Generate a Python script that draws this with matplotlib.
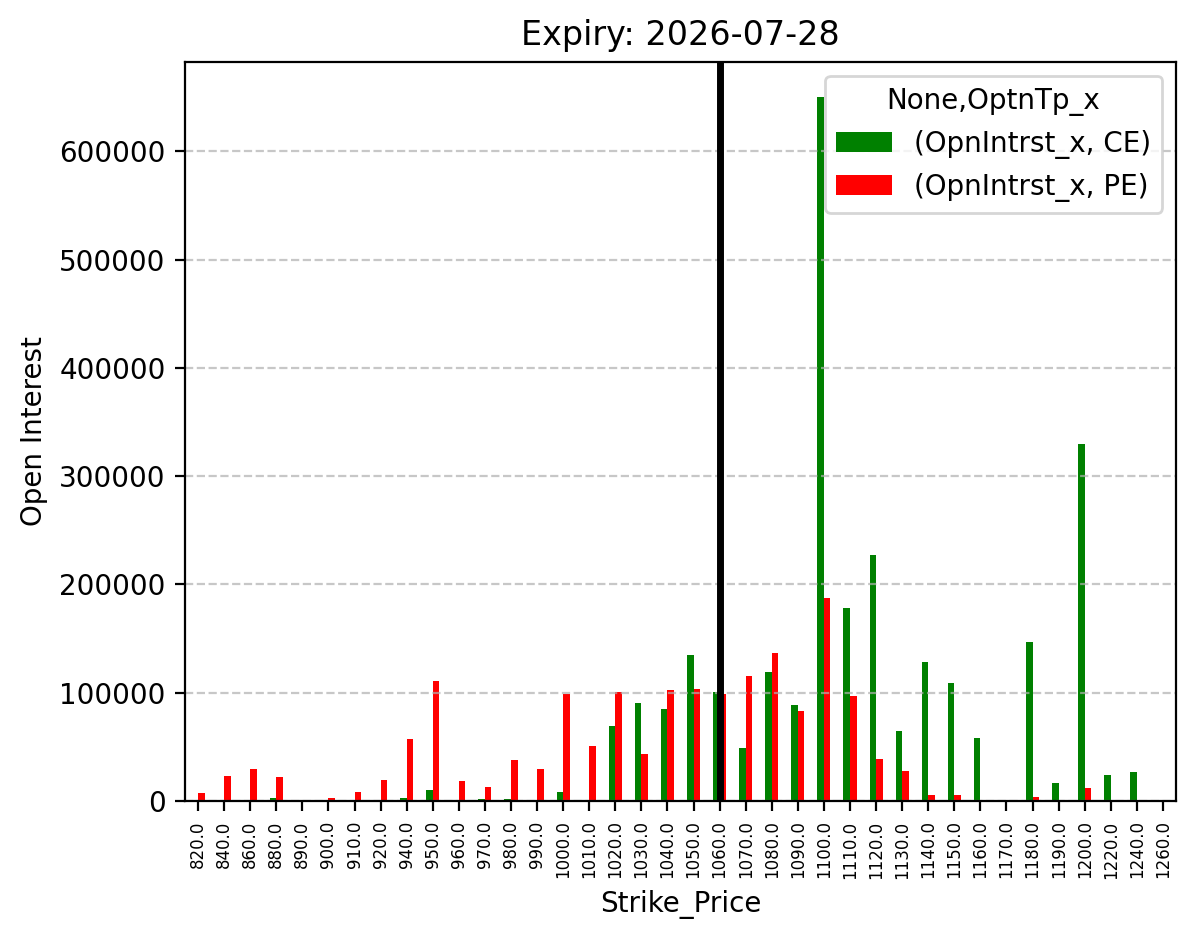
import numpy as np
import matplotlib
matplotlib.use("Agg")
from matplotlib import pyplot as plt

# strikes and open interest
strikes = [820, 840, 860, 880, 890, 900, 910, 920, 940, 950,
           960, 970, 980, 990, 1000, 1010, 1020, 1030, 1040, 1050,
           1060, 1070, 1080, 1090, 1100, 1110, 1120, 1130, 1140, 1150,
           1160, 1170, 1180, 1190, 1200, 1220, 1240, 1260]
ce_oi = [0, 0, 0, 2500, 0, 0, 0, 0, 2500, 10000,
         0, 2000, 2000, 0, 8000, 0, 69000, 90500, 85000, 135000,
         100500, 49000, 119000, 88500, 650000, 178000, 227000, 64500, 128500, 109000,
         58000, 0, 147000, 16500, 330000, 24000, 27000, 0]
pe_oi = [7400, 23000, 29500, 22000, 0, 2500, 8300, 19400, 57000, 111000,
         18500, 13000, 38000, 29500, 99000, 51000, 101000, 43500, 102500, 103500,
         99000, 115500, 136500, 83000, 187500, 97000, 39000, 28000, 5500, 5500,
         0, 0, 3500, 0, 12000, 1000, 0, 0]
spot_strike = 1060
expiry = "2026-07-28"

fig = plt.figure(figsize=(1197 / 200, 939 / 200), dpi=200)
ax = fig.add_axes([185 / 1197, 1 - 801 / 939, (1176 - 185) / 1197, (801 - 62) / 939])

x = np.arange(len(strikes))
w = 0.25
ax.bar(x - w / 2, ce_oi, w, color="green", label="(OpnIntrst_x, CE)")
ax.bar(x + w / 2, pe_oi, w, color="red", label="(OpnIntrst_x, PE)")
ax.set_xlim(-0.5, len(strikes) - 0.5)

ax.set_xticks(x)
ax.set_xticklabels([f"{float(s):.1f}" for s in strikes], rotation=90, fontsize=6)

# current price marker
ax.axvline(strikes.index(spot_strike), color="black", linewidth=2.5)

ax.grid(axis="y", linestyle="--", alpha=0.7)
ax.set_title(f"Expiry: {expiry}", fontsize=12)
ax.set_xlabel("Strike_Price")
ax.set_ylabel("Open Interest")
ax.legend(title="None,OptnTp_x", loc="upper right")

plt.savefig("out.png", dpi=200)
